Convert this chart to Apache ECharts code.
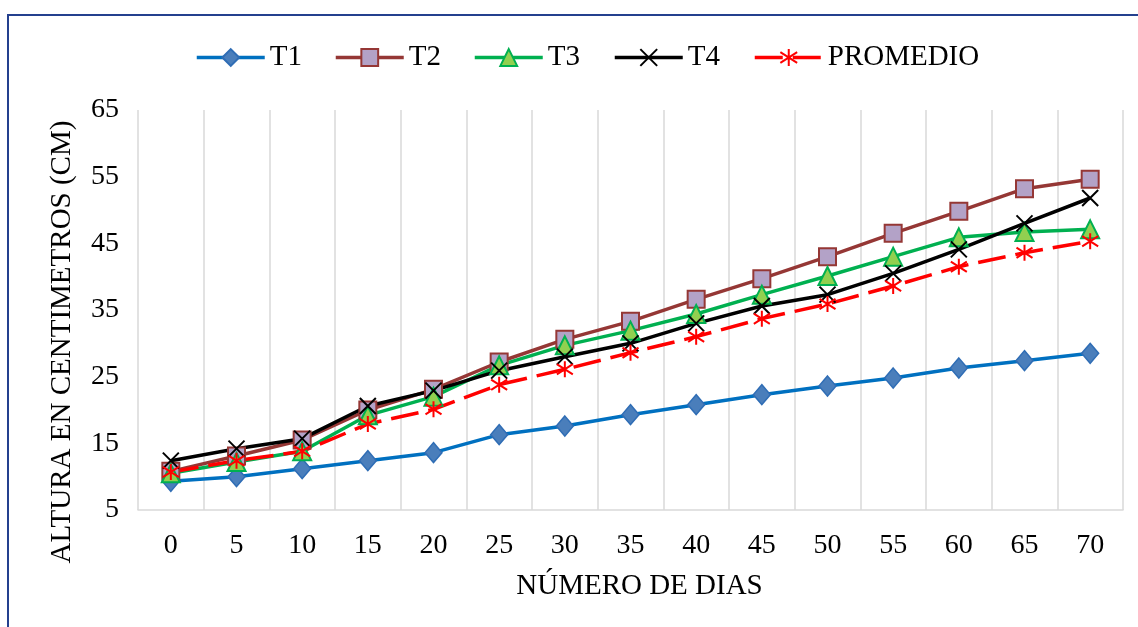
<!DOCTYPE html>
<html>
<head>
<meta charset="utf-8">
<script src="https://cdn.jsdelivr.net/npm/echarts@6/dist/echarts.min.js"></script>
<style>
html,body{margin:0;padding:0;background:#fff;}
#chart{width:1138px;height:627px;}
</style>
</head>
<body>
<div id="chart"></div>
<script>
const days = ['0','5','10','15','20','25','30','35','40','45','50','55','60','65','70'];
const yTicks = [5, 15, 25, 35, 45, 55, 65];
const seriesNames = ['T1','T2','T3','T4','PROMEDIO'];
const t1 = [9.3, 10.0, 11.2, 12.4, 13.6, 16.3, 17.6, 19.3, 20.8, 22.3, 23.6, 24.8, 26.3, 27.4, 28.5];
const t2 = [10.8, 13.1, 15.5, 20.0, 23.1, 27.2, 30.6, 33.3, 36.6, 39.7, 43.0, 46.5, 49.8, 53.2, 54.6];
const t3 = [10.5, 12.2, 13.8, 19.2, 22.0, 26.7, 29.7, 31.9, 34.4, 37.3, 40.1, 43.0, 45.9, 46.7, 47.1];
const t4 = [12.4, 14.2, 15.7, 20.6, 22.9, 25.9, 28.0, 30.0, 33.0, 35.6, 37.3, 40.5, 44.1, 48.0, 51.8];
const promedio = [10.7, 12.4, 13.8, 17.9, 20.1, 23.8, 26.1, 28.6, 31.0, 33.7, 35.9, 38.6, 41.5, 43.6, 45.3];
const xTitle = 'NÚMERO DE DIAS';
const yTitle = 'ALTURA EN CENTIMETROS (CM)';

const FONT = '"Liberation Serif", "Times New Roman", serif';
const chart = echarts.init(document.getElementById('chart'), null, {renderer: 'canvas'});

const X_PATH = 'path://M0,0L10,10M10,0L0,10';
const STAR_PATH = 'path://M5,0L5,10M0.8,1.8L9.2,8.2M0.8,8.2L9.2,1.8';

function mkLegend(name, left) {
  return {
    data: [name], left: left, top: 38, itemWidth: 68, itemHeight: 21, itemGap: 0,
    lineStyle: {width: 3.5},
    textStyle: {fontFamily: FONT, fontSize: 29, color: '#000'},
    selectedMode: false
  };
}
const legendLefts = [190, 329, 468, 608, 748];

const option = {
  backgroundColor: '#fff',
  animation: false,
  legend: seriesNames.map((n, i) => mkLegend(n, legendLefts[i])),
  grid: {left: 138, right: 15, top: 110, bottom: 117, containLabel: false},
  xAxis: {
    type: 'category', data: days, boundaryGap: true,
    name: xTitle, nameLocation: 'middle', nameGap: 62,
    nameTextStyle: {fontFamily: FONT, fontSize: 29, color: '#000', padding: [0, 0, 0, 18]},
    axisLine: {show: true, lineStyle: {color: '#d9d9d9', width: 1.5}},
    axisTick: {show: false},
    axisLabel: {fontFamily: FONT, fontSize: 28, color: '#000', margin: 22, interval: 0},
    splitLine: {show: true, interval: 0, lineStyle: {color: '#d9d9d9', width: 1.5}}
  },
  yAxis: {
    type: 'value', min: yTicks[0], max: yTicks[yTicks.length - 1], interval: 10,
    axisLine: {show: false}, axisTick: {show: false}, splitLine: {show: false},
    axisLabel: {fontFamily: FONT, fontSize: 28, color: '#000', margin: 19}
  },
  graphic: [
    {type: 'rect', shape: {x: 8, y: 15, width: 1300, height: 800}, style: {fill: 'none', stroke: '#24408E', lineWidth: 2}, silent: true, z: 100},
    {type: 'text', x: 62, y: 342, rotation: Math.PI / 2,
     style: {text: yTitle, fontFamily: FONT, fontSize: 29, fill: '#000', align: 'center', verticalAlign: 'middle'}}
  ],
  series: [
    {name: 'T1', type: 'line', data: t1, symbol: 'diamond', symbolSize: [17, 20],
     lineStyle: {color: '#0070C0', width: 3.5}, itemStyle: {color: '#4A7EBB', borderColor: '#2F6DB5', borderWidth: 1.5}},
    {name: 'T2', type: 'line', data: t2, symbol: 'rect', symbolSize: 17,
     lineStyle: {color: '#953735', width: 3.5}, itemStyle: {color: '#B3A2C7', borderColor: '#953735', borderWidth: 2}},
    {name: 'T3', type: 'line', data: t3, symbol: 'triangle', symbolSize: 18,
     lineStyle: {color: '#00B050', width: 3.5}, itemStyle: {color: '#92D050', borderColor: '#00B050', borderWidth: 2}},
    {name: 'T4', type: 'line', data: t4, symbol: X_PATH, symbolSize: 16,
     lineStyle: {color: '#000000', width: 3.5}, itemStyle: {color: '#000000', borderColor: '#000000', borderWidth: 2}},
    {name: 'PROMEDIO', type: 'line', data: promedio, symbol: STAR_PATH, symbolSize: 16,
     lineStyle: {color: '#FF0000', width: 3.5, type: [28, 10]}, itemStyle: {color: '#FF0000', borderColor: '#FF0000', borderWidth: 2}}
  ]
};
chart.setOption(option);
</script>
</body>
</html>
